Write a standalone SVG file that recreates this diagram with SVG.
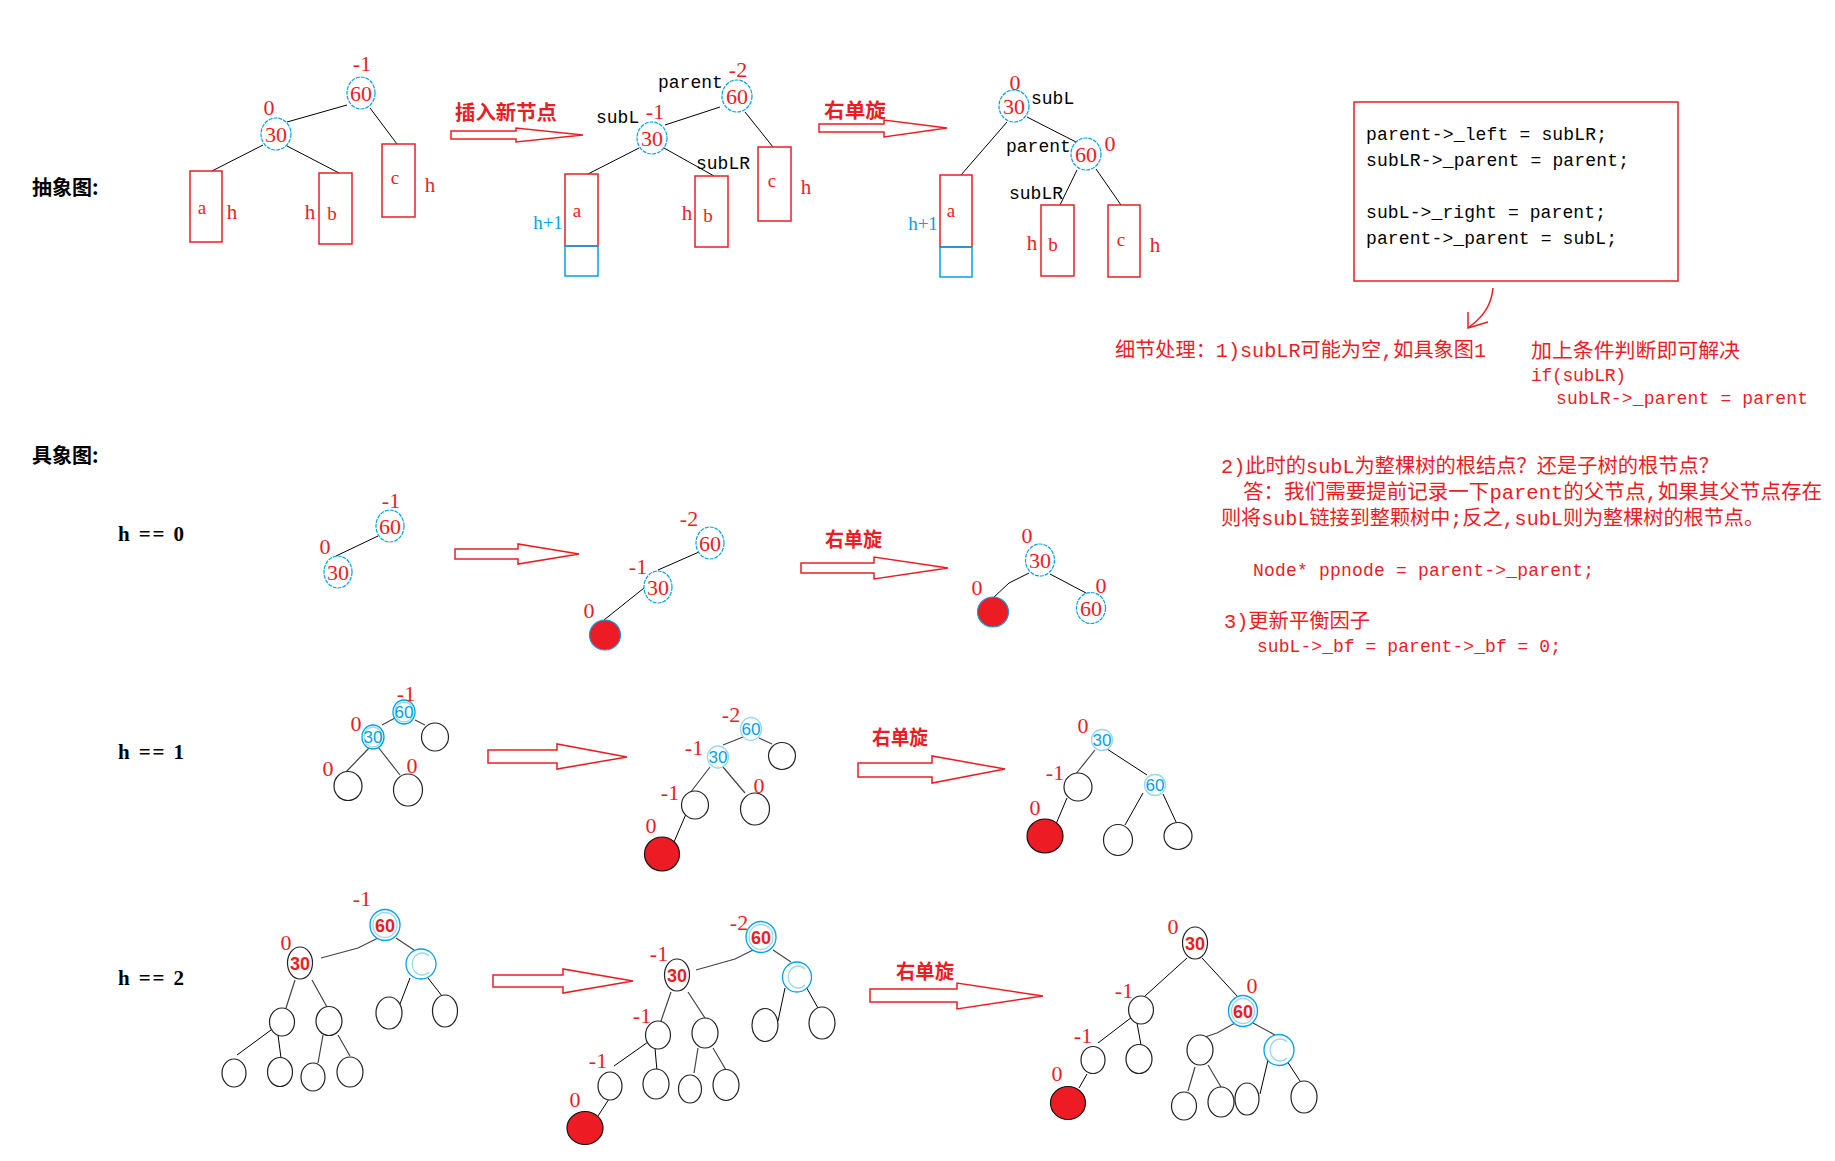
<svg xmlns="http://www.w3.org/2000/svg" width="1835" height="1161" viewBox="0 0 1835 1161">
<style>
.ln{stroke:#000;stroke-width:1;fill:none}
.lg{stroke:#444;stroke-width:1.2;fill:none}
.bx{fill:none;stroke:#ed1c24;stroke-width:1.5}
.bb{fill:none;stroke:#00a2e8;stroke-width:1.5}
.bc{fill:#fff;stroke:#00a2e8;stroke-width:1.2;stroke-dasharray:4 1}
.bc1{fill:#fff;stroke:#00a2e8;stroke-width:1.3}
.bc2{fill:none;stroke:#99d9ea;stroke-width:1.3}
.kc{fill:#fff;stroke:#222;stroke-width:1.2}
.rc{fill:#ed1c24;stroke:#111;stroke-width:1.2}
.rcb{fill:#ed1c24;stroke:#00a2e8;stroke-width:1.2}
.ar{fill:none;stroke:#ed1c24;stroke-width:1.5;stroke-linejoin:miter}
.bf{fill:#ed1c24;font-family:"Liberation Serif",serif;font-size:22px;text-anchor:middle}
.nv{fill:#ed1c24;font-family:"Liberation Serif",serif;font-size:22px;text-anchor:middle}
.nvs{fill:#ed1c24;font-family:"Liberation Sans",sans-serif;font-size:18px;font-weight:bold;text-anchor:middle}
.nvb{fill:#00a2e8;font-family:"Liberation Sans",sans-serif;font-size:17px;text-anchor:middle}
.lb{fill:#ed1c24;font-family:"Liberation Serif",serif;font-size:19px;text-anchor:middle}
.hh{fill:#ed1c24;font-family:"Liberation Serif",serif;font-size:21px;text-anchor:middle}
.hb{fill:#00a2e8;font-family:"Liberation Serif",serif;font-size:19px;text-anchor:middle}
.ptr{fill:#000;font-family:"Liberation Mono",monospace;font-size:18px}
.zh{fill:#000;font-family:"Noto Sans CJK SC",sans-serif;font-size:20px;font-weight:bold}
.zr{fill:#ed1c24;font-family:"Noto Sans CJK SC",sans-serif;font-size:20px;font-weight:bold}
.note{fill:#ed1c24;font-family:"Liberation Mono","Noto Sans CJK SC",monospace;font-size:20px}
.code{fill:#000;font-family:"Liberation Mono",monospace;font-size:18px}
.codeR{fill:#ed1c24;font-family:"Liberation Mono",monospace;font-size:18px}
.hk{fill:#000;font-family:"Liberation Serif",serif;font-size:21px;font-weight:bold}
</style>
<rect x="0" y="0" width="1835" height="1161" fill="#fff"/>

<!-- headings -->
<g id="headings">
<text class="zh" x="32" y="195">抽象图:</text>
<text class="zh" x="32" y="463">具象图:</text>
<text class="hk" x="118" y="541" textLength="66" lengthAdjust="spacing">h == 0</text>
<text class="hk" x="118" y="759" textLength="66" lengthAdjust="spacing">h == 1</text>
<text class="hk" x="118" y="985" textLength="66" lengthAdjust="spacing">h == 2</text>
</g>

<!-- big hollow arrows and labels -->
<g id="arrows">
<polygon class="ar" points="451,131 516,131 516,128 583,135 516,142 516,139 451,139"/>
<polygon class="ar" points="819,124 884,124 884,120 947,128 884,137 884,132 819,132"/>
<polygon class="ar" points="455,549 518,549 518,544 579,554 518,564 518,559 455,559"/>
<polygon class="ar" points="801,563 874,563 874,557 948,568 874,579 874,573 801,573"/>
<polygon class="ar" points="488,750 557,750 557,744 627,757 557,769 557,763 488,763"/>
<polygon class="ar" points="858,763 932,763 932,756 1005,769 932,783 932,777 858,777"/>
<polygon class="ar" points="493,975 563,975 563,969 633,981 563,993 563,987 493,987"/>
<polygon class="ar" points="870,989 957,989 957,983 1043,996 957,1009 957,1002 870,1002"/>
<text class="zr" x="455" y="120" textLength="102" lengthAdjust="spacingAndGlyphs">插入新节点</text>
<text class="zr" x="824" y="118" textLength="62" lengthAdjust="spacingAndGlyphs">右单旋</text>
<text class="zr" x="825" y="547" textLength="57" lengthAdjust="spacingAndGlyphs">右单旋</text>
<text class="zr" x="872" y="745" textLength="56" lengthAdjust="spacingAndGlyphs">右单旋</text>
<text class="zr" x="896" y="979" textLength="58" lengthAdjust="spacingAndGlyphs">右单旋</text>
</g>

<!-- connectors -->
<g id="connectors">
<path class="ln" d="M347,105 L287,122 M370,108 L397,144 M263,145 L212,171 M287,146 L339,173"/>
<path class="ln" d="M720,107 L665,125 M745,112 L773,147 M639,148 L588,174 M664,148 L714,176"/>
<path class="ln" d="M1027,117 L1076,142 M1007,122 L961,175 M1077,170 L1060,205 M1096,169 L1121,205"/>
<path class="ln" d="M378,536 L336,556"/>
<path class="ln" d="M699,552 L658,570 M644,588 L604,620"/>
<path class="ln" d="M1029,573 L1009,583 L993,598 M1050,574 L1086,593"/>
<path class="lg" d="M415,720 L425,725 M395,718 L382,725 M370,747 L345,773 M378,747 L400,775"/>
<path class="lg" d="M759,738 L772,744 M743,737 L723,745 M710,767 L690,793 M723,767 L745,793"/>
<path class="ln" d="M686,814 L674,842"/>
<path class="lg" d="M1095,750 L1075,775"/>
<path class="ln" d="M1067,798 L1056,824 M1107,749 L1147,775 M1143,793 L1125,825 M1163,794 L1177,824"/>
<path class="lg" d="M380,937 L358,948 L321,958 M396,938 L414,950 M295,980 L286,1008 M312,980 L327,1007"/>
<path class="ln" d="M410,978 L400,1004 M428,978 L442,996"/>
<path class="ln" d="M271,1030 L237,1055 M278,1035 L281,1058"/>
<path class="lg" d="M323,1035 L318,1063 M338,1035 L350,1056"/>
<path class="lg" d="M755,949 L735,959 L696,970 M773,950 L791,962 M671,992 L661,1021 M688,992 L705,1018"/>
<path class="ln" d="M785,988 L778,1021 M805,985 L818,1008"/>
<path class="ln" d="M648,1042 L614,1066 M655,1048 L657,1071"/>
<path class="lg" d="M698,1048 L694,1073 M713,1048 L726,1070"/>
<path class="ln" d="M609,1099 L598,1116"/>
<path class="ln" d="M1187,958 L1145,996 M1202,958 L1238,997 M1132,1017 L1098,1043 M1137,1023 L1141,1045 M1087,1074 L1079,1088"/>
<path class="lg" d="M1235,1023 L1217,1033 L1205,1037 M1253,1023 L1275,1035 M1195,1067 L1188,1091 M1208,1065 L1221,1087"/>
<path class="ln" d="M1268,1060 L1260,1094 M1285,1058 L1300,1081"/>
<path class="ar" d="M1493,288 Q1491,312 1469,327 M1468,312 L1468,328 L1488,322"/>
</g>

<!-- ===== abstract tree 1 ===== -->
<g id="a1-n60"><ellipse class="bc" cx="361" cy="93" rx="14" ry="16"/><text class="nv" x="361" y="101">60</text><text class="bf" x="362" y="71">-1</text></g>
<g id="a1-n30"><ellipse class="bc" cx="276" cy="134" rx="15" ry="16"/><text class="nv" x="276" y="142">30</text><text class="bf" x="269" y="115">0</text></g>
<g id="a1-a"><rect class="bx" x="190" y="171" width="32" height="71"/><text class="lb" x="202" y="214">a</text><text class="hh" x="232" y="219">h</text></g>
<g id="a1-b"><rect class="bx" x="319" y="173" width="33" height="71"/><text class="lb" x="332" y="220">b</text><text class="hh" x="310" y="219">h</text></g>
<g id="a1-c"><rect class="bx" x="382" y="144" width="33" height="73"/><text class="lb" x="395" y="184">c</text><text class="hh" x="430" y="192">h</text></g>

<!-- ===== abstract tree 2 ===== -->
<g id="a2-n60"><ellipse class="bc" cx="737" cy="96" rx="15" ry="16"/><text class="nv" x="737" y="104">60</text><text class="bf" x="738" y="77">-2</text><text class="ptr" x="658" y="88">parent</text></g>
<g id="a2-n30"><ellipse class="bc" cx="652" cy="138" rx="15" ry="16"/><text class="nv" x="652" y="146">30</text><text class="bf" x="655" y="119">-1</text><text class="ptr" x="596" y="123">subL</text></g>
<g id="a2-a"><rect class="bx" x="565" y="174" width="33" height="72"/><rect class="bb" x="565" y="246" width="33" height="30"/><text class="lb" x="577" y="217">a</text><text class="hb" x="548" y="229">h+1</text></g>
<g id="a2-b"><rect class="bx" x="695" y="176" width="33" height="71"/><text class="lb" x="708" y="222">b</text><text class="hh" x="687" y="220">h</text><text class="ptr" x="696" y="169">subLR</text></g>
<g id="a2-c"><rect class="bx" x="758" y="147" width="33" height="74"/><text class="lb" x="772" y="187">c</text><text class="hh" x="806" y="194">h</text></g>

<!-- ===== abstract tree 3 ===== -->
<g id="a3-n30"><ellipse class="bc" cx="1014" cy="106" rx="15" ry="16"/><text class="nv" x="1014" y="114">30</text><text class="bf" x="1015" y="90">0</text><text class="ptr" x="1031" y="104">subL</text></g>
<g id="a3-n60"><ellipse class="bc" cx="1086" cy="154" rx="15" ry="16"/><text class="nv" x="1086" y="162">60</text><text class="bf" x="1110" y="151">0</text><text class="ptr" x="1006" y="152">parent</text></g>
<g id="a3-a"><rect class="bx" x="940" y="175" width="32" height="72"/><rect class="bb" x="940" y="247" width="32" height="30"/><text class="lb" x="951" y="217">a</text><text class="hb" x="923" y="230">h+1</text></g>
<g id="a3-b"><rect class="bx" x="1041" y="205" width="33" height="71"/><text class="lb" x="1053" y="251">b</text><text class="hh" x="1032" y="250">h</text><text class="ptr" x="1009" y="199">subLR</text></g>
<g id="a3-c"><rect class="bx" x="1108" y="205" width="32" height="72"/><text class="lb" x="1121" y="246">c</text><text class="hh" x="1155" y="252">h</text></g>

<!-- ===== code box and notes ===== -->
<g id="codebox">
<rect class="bx" x="1354" y="102" width="324" height="179"/>
<text class="code" x="1366" y="140" textLength="241">parent-&gt;_left = subLR;</text>
<text class="code" x="1366" y="166" textLength="263">subLR-&gt;_parent = parent;</text>
<text class="code" x="1366" y="218" textLength="240">subL-&gt;_right = parent;</text>
<text class="code" x="1366" y="244" textLength="251">parent-&gt;_parent = subL;</text>
</g>
<g id="notes">
<text class="note" x="1115" y="357" textLength="371" lengthAdjust="spacingAndGlyphs">细节处理：1)subLR可能为空,如具象图1</text>
<text class="note" x="1531" y="358" textLength="209" lengthAdjust="spacingAndGlyphs">加上条件判断即可解决</text>
<text class="codeR" x="1531" y="381" textLength="95">if(subLR)</text>
<text class="codeR" x="1556" y="404" textLength="252">subLR-&gt;_parent = parent</text>
<text class="note" x="1221" y="473" textLength="498" lengthAdjust="spacingAndGlyphs">2)此时的subL为整棵树的根结点？还是子树的根节点？</text>
<text class="note" x="1243" y="499" textLength="579" lengthAdjust="spacingAndGlyphs">答：我们需要提前记录一下parent的父节点,如果其父节点存在</text>
<text class="note" x="1221" y="525" textLength="543" lengthAdjust="spacingAndGlyphs">则将subL链接到整颗树中;反之,subL则为整棵树的根节点。</text>
<text class="codeR" x="1253" y="576" textLength="341">Node* ppnode = parent-&gt;_parent;</text>
<text class="note" x="1224" y="628" textLength="146" lengthAdjust="spacingAndGlyphs">3)更新平衡因子</text>
<text class="codeR" x="1257" y="652" textLength="304">subL-&gt;_bf = parent-&gt;_bf = 0;</text>
</g>

<!-- ===== h == 0 ===== -->
<g id="h0a-n60"><ellipse class="bc" cx="390" cy="526" rx="14" ry="16"/><text class="nv" x="390" y="534">60</text><text class="bf" x="391" y="508">-1</text></g>
<g id="h0a-n30"><ellipse class="bc" cx="338" cy="572" rx="14" ry="16"/><text class="nv" x="338" y="580">30</text><text class="bf" x="325" y="554">0</text></g>
<g id="h0b-n60"><ellipse class="bc" cx="710" cy="543" rx="14" ry="16"/><text class="nv" x="710" y="551">60</text><text class="bf" x="689" y="526">-2</text></g>
<g id="h0b-n30"><ellipse class="bc" cx="658" cy="587" rx="14" ry="16"/><text class="nv" x="658" y="595">30</text><text class="bf" x="638" y="574">-1</text></g>
<g id="h0b-new"><ellipse class="rcb" cx="605" cy="635" rx="15.5" ry="15"/><text class="bf" x="589" y="618">0</text></g>
<g id="h0c-n30"><ellipse class="bc" cx="1040" cy="560" rx="14.5" ry="16"/><text class="nv" x="1040" y="568">30</text><text class="bf" x="1027" y="543">0</text></g>
<g id="h0c-new"><ellipse class="rcb" cx="993" cy="612" rx="15.5" ry="15"/><text class="bf" x="977" y="595">0</text></g>
<g id="h0c-n60"><ellipse class="bc" cx="1091" cy="608" rx="14.5" ry="15.5"/><text class="nv" x="1091" y="616">60</text><text class="bf" x="1101" y="593">0</text></g>

<!-- ===== h == 1 ===== -->
<g id="h1a-n60"><ellipse class="bc1" cx="404" cy="712" rx="11" ry="12"/><ellipse class="bc2" cx="404" cy="712" rx="9" ry="10"/><text class="nvb" x="404" y="718">60</text><text class="bf" x="406" y="701">-1</text></g>
<g id="h1a-r"><ellipse class="kc" cx="435" cy="737" rx="13.5" ry="14"/></g>
<g id="h1a-n30"><ellipse class="bc1" cx="373" cy="737" rx="11" ry="12"/><ellipse class="bc2" cx="373" cy="737" rx="9" ry="10"/><text class="nvb" x="373" y="743">30</text><text class="bf" x="356" y="731">0</text></g>
<g id="h1a-ll"><ellipse class="kc" cx="348" cy="786" rx="14" ry="14.5"/><text class="bf" x="328" y="776">0</text></g>
<g id="h1a-lr"><ellipse class="kc" cx="408" cy="790" rx="14.5" ry="16"/><text class="bf" x="412" y="773">0</text></g>

<g id="h1b-n60"><ellipse class="bc2" cx="751" cy="729" rx="10.5" ry="11.5"/><text class="nvb" x="751" y="735">60</text><text class="bf" x="731" y="722">-2</text></g>
<g id="h1b-r"><ellipse class="kc" cx="782" cy="756" rx="13.5" ry="13.5"/></g>
<g id="h1b-n30"><ellipse class="bc2" cx="718" cy="757" rx="10.5" ry="11"/><text class="nvb" x="718" y="763">30</text><text class="bf" x="694" y="755">-1</text></g>
<g id="h1b-ll"><ellipse class="kc" cx="695" cy="805" rx="13.5" ry="14"/><text class="bf" x="670" y="800">-1</text></g>
<g id="h1b-lr"><ellipse class="kc" cx="755" cy="809" rx="14.5" ry="16"/><text class="bf" x="759" y="793">0</text></g>
<g id="h1b-new"><ellipse class="rc" cx="662" cy="854" rx="17.5" ry="17"/><text class="bf" x="651" y="833">0</text></g>

<g id="h1c-n30"><ellipse class="bc2" cx="1102" cy="740" rx="10.5" ry="10.5"/><text class="nvb" x="1102" y="746">30</text><text class="bf" x="1083" y="733">0</text></g>
<g id="h1c-l"><ellipse class="kc" cx="1078" cy="787" rx="14" ry="14"/><text class="bf" x="1055" y="780">-1</text></g>
<g id="h1c-new"><ellipse class="rc" cx="1045" cy="836" rx="18" ry="17"/><text class="bf" x="1035" y="815">0</text></g>
<g id="h1c-n60"><ellipse class="bc2" cx="1155" cy="785" rx="10.5" ry="10.5"/><text class="nvb" x="1155" y="791">60</text></g>
<g id="h1c-rl"><ellipse class="kc" cx="1118" cy="840" rx="14.5" ry="15.5"/></g>
<g id="h1c-rr"><ellipse class="kc" cx="1178" cy="836" rx="14" ry="13.5"/></g>

<!-- ===== h == 2 ===== -->
<g id="h2a-n60"><ellipse class="bc1" cx="385" cy="925" rx="15" ry="15.5"/><ellipse class="bc2" cx="385" cy="925" rx="12" ry="12.5"/><text class="nvs" x="385" y="932">60</text><text class="bf" x="362" y="906">-1</text></g>
<g id="h2a-n30"><ellipse class="kc" cx="300" cy="963" rx="12.5" ry="16"/><text class="nvs" x="300" y="970">30</text><text class="bf" x="286" y="950">0</text></g>
<g id="h2a-c"><ellipse class="bc1" cx="421" cy="964" rx="15" ry="15"/><path class="bc2" d="M429,956 A10,11 0 1 0 429,972"/></g>
<g id="h2a-A"><ellipse class="kc" cx="282" cy="1022" rx="12.5" ry="14"/></g>
<g id="h2a-B"><ellipse class="kc" cx="329" cy="1021" rx="13" ry="14.5"/></g>
<g id="h2a-C"><ellipse class="kc" cx="389" cy="1013" rx="13" ry="16"/></g>
<g id="h2a-D"><ellipse class="kc" cx="445" cy="1011" rx="12.5" ry="16"/></g>
<g id="h2a-E"><ellipse class="kc" cx="234" cy="1073" rx="12" ry="14"/></g>
<g id="h2a-F"><ellipse class="kc" cx="280" cy="1072" rx="12.5" ry="14.5"/></g>
<g id="h2a-G"><ellipse class="kc" cx="313" cy="1077" rx="12" ry="14"/></g>
<g id="h2a-H"><ellipse class="kc" cx="350" cy="1072" rx="13" ry="15"/></g>

<g id="h2b-n60"><ellipse class="bc1" cx="761" cy="937" rx="15" ry="15.5"/><ellipse class="bc2" cx="761" cy="937" rx="12" ry="12.5"/><text class="nvs" x="761" y="944">60</text><text class="bf" x="739" y="930">-2</text></g>
<g id="h2b-n30"><ellipse class="kc" cx="677" cy="975" rx="12.5" ry="16"/><text class="nvs" x="677" y="982">30</text><text class="bf" x="659" y="961">-1</text></g>
<g id="h2b-c"><ellipse class="bc1" cx="797" cy="977" rx="14.5" ry="15"/><path class="bc2" d="M805,969 A10,11 0 1 0 805,985"/></g>
<g id="h2b-I"><ellipse class="kc" cx="658" cy="1035" rx="12.5" ry="14"/><text class="bf" x="642" y="1023">-1</text></g>
<g id="h2b-J"><ellipse class="kc" cx="705" cy="1033" rx="13" ry="15"/></g>
<g id="h2b-K"><ellipse class="kc" cx="765" cy="1025" rx="13" ry="16.5"/></g>
<g id="h2b-L"><ellipse class="kc" cx="822" cy="1023" rx="13" ry="16"/></g>
<g id="h2b-M"><ellipse class="kc" cx="610" cy="1086" rx="12" ry="14"/><text class="bf" x="598" y="1068">-1</text></g>
<g id="h2b-N"><ellipse class="kc" cx="656" cy="1084" rx="13" ry="15"/></g>
<g id="h2b-O"><ellipse class="kc" cx="690" cy="1089" rx="11.5" ry="14"/></g>
<g id="h2b-P"><ellipse class="kc" cx="726" cy="1085" rx="13" ry="15.5"/></g>
<g id="h2b-new"><ellipse class="rc" cx="585" cy="1128" rx="18" ry="16.5"/><text class="bf" x="575" y="1107">0</text></g>

<g id="h2c-n30"><ellipse class="kc" cx="1195" cy="943" rx="12.5" ry="16"/><text class="nvs" x="1195" y="950">30</text><text class="bf" x="1173" y="934">0</text></g>
<g id="h2c-L1"><ellipse class="kc" cx="1141" cy="1010" rx="12.5" ry="14"/><text class="bf" x="1124" y="998">-1</text></g>
<g id="h2c-n60"><ellipse class="bc1" cx="1243" cy="1011" rx="14.5" ry="15.5"/><ellipse class="bc2" cx="1243" cy="1011" rx="11.5" ry="12.5"/><text class="nvs" x="1243" y="1018">60</text><text class="bf" x="1252" y="993">0</text></g>
<g id="h2c-L2"><ellipse class="kc" cx="1093" cy="1060" rx="12" ry="13.5"/><text class="bf" x="1083" y="1043">-1</text></g>
<g id="h2c-L2s"><ellipse class="kc" cx="1139" cy="1059" rx="13" ry="14.5"/></g>
<g id="h2c-new"><ellipse class="rc" cx="1068" cy="1103" rx="17.5" ry="16.5"/><text class="bf" x="1057" y="1081">0</text></g>
<g id="h2c-R1"><ellipse class="kc" cx="1200" cy="1050" rx="13" ry="15"/></g>
<g id="h2c-R2"><ellipse class="bc1" cx="1279" cy="1050" rx="15" ry="15.5"/><path class="bc2" d="M1287,1042 A10,11 0 1 0 1287,1058"/></g>
<g id="h2c-S1"><ellipse class="kc" cx="1184" cy="1106" rx="12.5" ry="14"/></g>
<g id="h2c-S2"><ellipse class="kc" cx="1221" cy="1102" rx="13" ry="15"/></g>
<g id="h2c-S3"><ellipse class="kc" cx="1247" cy="1099" rx="12" ry="16"/></g>
<g id="h2c-S4"><ellipse class="kc" cx="1304" cy="1097" rx="13" ry="16"/></g>
</svg>
